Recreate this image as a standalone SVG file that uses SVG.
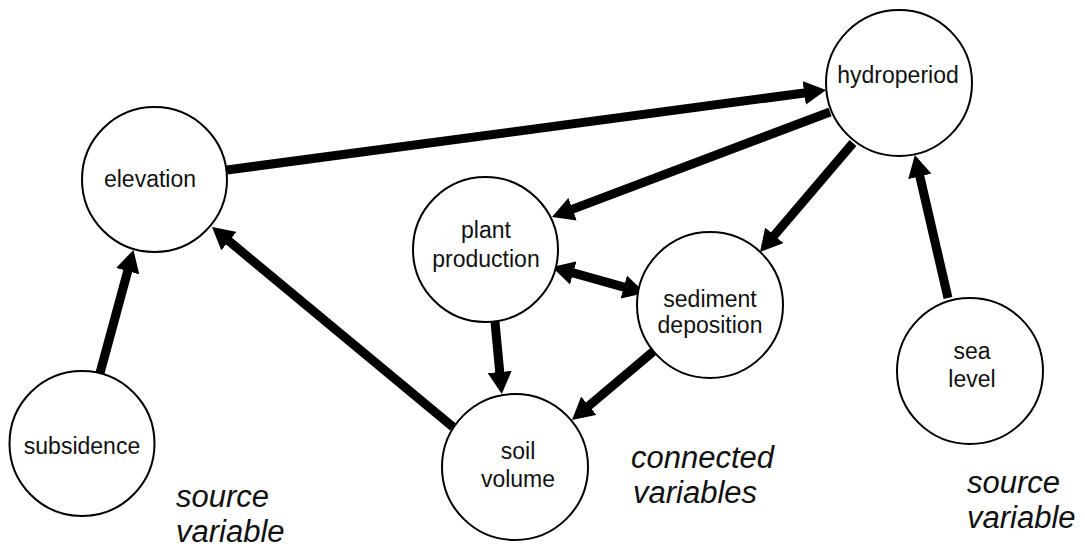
<svg xmlns="http://www.w3.org/2000/svg" width="1085" height="547" viewBox="0 0 1085 547">
  <style>
    .node circle { fill: #ffffff; stroke: #000000; stroke-width: 2; }
    .node text { font-family: "Liberation Sans", Arial, sans-serif; font-size: 23px; fill: #111111; text-anchor: middle; }
    .edge { stroke: #000000; stroke-width: 9; fill: none; marker-end: url(#head); }
    .both { marker-start: url(#head); }
    .note { font-family: "Liberation Sans", Arial, sans-serif; font-size: 31px; font-style: italic; fill: #111111; }
  </style>
  <defs>
    <marker id="head" markerUnits="userSpaceOnUse" markerWidth="22" markerHeight="24" refX="2" refY="12" orient="auto-start-reverse">
      <path d="M0,0 L22,12 L0,24 z" fill="#000000"/>
    </marker>
  </defs>
  <rect width="1085" height="547" fill="#ffffff"/>

  <!-- connectors: each line stops at the base of its arrowhead -->
  <g id="connectors">
    <line class="edge" x1="227" y1="170" x2="806.2" y2="92.7"/>
    <line class="edge" x1="830" y1="112" x2="570.7" y2="209.9"/>
    <line class="edge" x1="853" y1="143" x2="773" y2="236.8"/>
    <line class="edge" x1="948" y1="298" x2="919.4" y2="174.5"/>
    <line class="edge" x1="100" y1="373" x2="128.2" y2="269.2"/>
    <line class="edge" x1="453" y1="427" x2="227.4" y2="239.8"/>
    <line class="edge" x1="495" y1="322" x2="499.9" y2="374"/>
    <line class="edge" x1="655" y1="350" x2="587.3" y2="407.1"/>
    <line class="edge both" x1="571.3" y1="272.4" x2="625.7" y2="287.6"/>
  </g>

  <!-- nodes -->
  <g id="hydroperiod" class="node">
    <circle cx="899" cy="83" r="73"/>
    <text x="898" y="83">hydroperiod</text>
  </g>
  <g id="elevation" class="node">
    <circle cx="154.5" cy="179.5" r="72.5"/>
    <text x="150" y="187">elevation</text>
  </g>
  <g id="plant-production" class="node">
    <circle cx="485.5" cy="249.5" r="72.5"/>
    <text x="486" y="238">plant</text>
    <text x="486" y="267">production</text>
  </g>
  <g id="sediment-deposition" class="node">
    <circle cx="710" cy="305" r="73"/>
    <text x="710" y="307">sediment</text>
    <text x="710" y="333">deposition</text>
  </g>
  <g id="sea-level" class="node">
    <circle cx="970" cy="371" r="73"/>
    <text x="972" y="359">sea</text>
    <text x="972" y="387">level</text>
  </g>
  <g id="subsidence" class="node">
    <circle cx="82" cy="443.5" r="72.5"/>
    <text x="82" y="454">subsidence</text>
  </g>
  <g id="soil-volume" class="node">
    <circle cx="515" cy="467" r="73"/>
    <text x="518" y="459">soil</text>
    <text x="518" y="487">volume</text>
  </g>

  <!-- category labels -->
  <g id="labels">
    <text class="note" x="176" y="507">source</text>
    <text class="note" x="176" y="542">variable</text>
    <text class="note" x="631" y="468">connected</text>
    <text class="note" x="633" y="503">variables</text>
    <text class="note" x="967" y="493">source</text>
    <text class="note" x="967" y="528">variable</text>
  </g>
</svg>
